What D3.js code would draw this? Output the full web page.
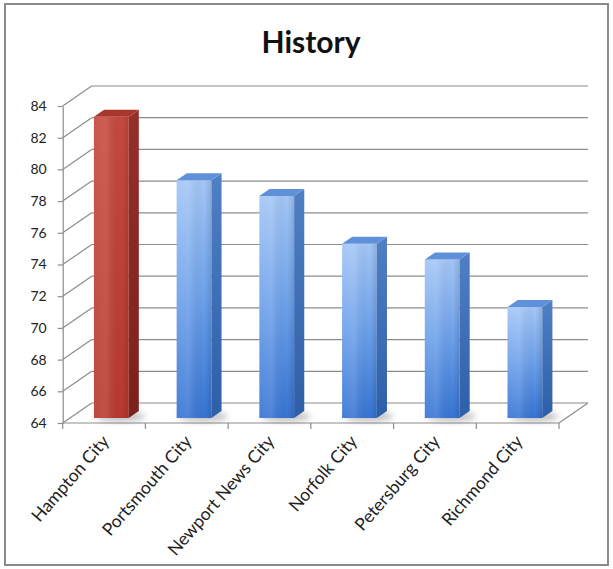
<!DOCTYPE html>
<html>
<head>
<meta charset="utf-8">
<script src="https://cdn.jsdelivr.net/npm/d3@7"></script>
<style>
  html, body { margin: 0; padding: 0; background: #fff; }
  svg { display: block; }
</style>
</head>
<body>
<svg id="chart" width="613" height="569"></svg>
<script>
// ---- data ----
const title = "History";
const categories = ["Hampton City", "Portsmouth City", "Newport News City", "Norfolk City", "Petersburg City", "Richmond City"];
const values = [83, 79, 78, 75, 74, 71];
const highlighted = ["Hampton City"];
const yTicks = [64, 66, 68, 70, 72, 74, 76, 78, 80, 82, 84];

// ---- layout ----
const W = 613, H = 569;
const svg = d3.select("#chart");
const font = "Lato, 'Open Sans', 'DejaVu Sans', sans-serif";

const x = d3.scaleBand().domain(categories).range([62.7, 559]).padding(0);
const y = d3.scaleLinear().domain([64, 84]).range([423, 106]);
const DX = 29, DY = -20;           // depth offset of the back wall
const proj = (px, py, z) => [px + z * DX, py + z * DY];

// frame
svg.append("rect").attr("x", 5).attr("y", 4).attr("width", 603).attr("height", 561)
  .attr("fill", "#fff").attr("stroke", "#8a8a8a").attr("stroke-width", 2);

// title
svg.append("text").attr("x", 311).attr("y", 53).attr("text-anchor", "middle")
  .attr("font-family", font).attr("font-weight", "bold").attr("font-size", 30)
  .attr("fill", "#111").text(title);

const defs = svg.append("defs");
const mkGrad = (id, stops, vertical = true) => {
  const g = defs.append("linearGradient").attr("id", id)
    .attr("x1", 0).attr("y1", 0).attr("x2", vertical ? 0 : 1).attr("y2", vertical ? 1 : 0);
  stops.forEach(([o, c]) => g.append("stop").attr("offset", o).attr("stop-color", c));
};
mkGrad("blueFront", [[0, "#a4c6f6"], [0.5, "#6ca0ea"], [1, "#3674d3"]]);
mkGrad("blueSide", [[0, "#4f80c4"], [1, "#2d5ea8"]]);
mkGrad("redFront", [[0, "#c5493e"], [1, "#b7392f"]]);
mkGrad("redSide", [[0, "#95302a"], [1, "#7c201c"]]);
mkGrad("shade", [[0, "rgba(255,255,255,0.08)"], [0.35, "rgba(255,255,255,0.12)"], [0.8, "rgba(0,0,0,0.0)"], [1, "rgba(0,0,0,0.12)"]], false);
const blur = defs.append("filter").attr("id", "blur").attr("x", "-50%").attr("y", "-50%").attr("width", "200%").attr("height", "200%");
blur.append("feGaussianBlur").attr("stdDeviation", 3);

const grid = svg.append("g").attr("stroke", "#8c8c8c").attr("stroke-width", 1.2).attr("fill", "none");
// back wall gridlines + left wall diagonals
yTicks.forEach(t => {
  const [bx0, by0] = proj(x.range()[0], y(t), 1);
  const [bx1, by1] = proj(x.range()[1], y(t), 1);
  grid.append("line").attr("x1", bx0).attr("y1", by0).attr("x2", bx1).attr("y2", by1);
  grid.append("line").attr("x1", x.range()[0]).attr("y1", y(t)).attr("x2", bx0).attr("y2", by0);
});
// floor front edge and right edge
const [fr0x, fr0y] = [x.range()[1], y(64)];
const [fr1x, fr1y] = proj(x.range()[1], y(64), 1);
grid.append("line").attr("x1", x.range()[0]).attr("y1", y(64)).attr("x2", fr0x).attr("y2", fr0y);
grid.append("line").attr("x1", fr0x).attr("y1", fr0y).attr("x2", fr1x).attr("y2", fr1y);

// y axis
const yAxis = d3.axisLeft(y).tickValues(yTicks).tickSize(5).tickSizeOuter(0).tickPadding(11);
const gy = svg.append("g").attr("transform", `translate(${x.range()[0]},0)`).call(yAxis);
gy.select(".domain").attr("stroke", "#8c8c8c").attr("stroke-width", 1.2);
gy.selectAll(".tick line").attr("stroke", "#8c8c8c").attr("stroke-width", 1.2);
gy.selectAll(".tick text").attr("font-family", font).attr("font-size", 14).attr("fill", "#222");

// x axis (ticks at category boundaries, labels rotated)
const bounds = categories.map(c => x(c)).concat([x.range()[1]]);
svg.append("g").selectAll("line").data(bounds).join("line")
  .attr("x1", d => d).attr("x2", d => d).attr("y1", y(64)).attr("y2", y(64) + 6)
  .attr("stroke", "#8c8c8c").attr("stroke-width", 1.2);
svg.append("g").selectAll("text").data(categories).join("text")
  .attr("transform", d => `translate(${x(d) + x.bandwidth() / 2 + 6},${y(64) + 19}) rotate(-49)`)
  .attr("text-anchor", "end").attr("font-family", font).attr("font-size", 17.5).attr("fill", "#222")
  .text(d => d);

// bars
const bw = x.bandwidth() * 0.42;
const z0 = 0.25, z1 = 0.6;
const bars = svg.append("g");
categories.forEach((c, i) => {
  const v = values[i];
  const red = highlighted.includes(c);
  const u0 = x(c) + (x.bandwidth() - bw) / 2, u1 = u0 + bw;
  const yb = y(64), yt = y(v);
  const P = (u, yy, z) => proj(u, yy, z).join(",");
  const g = bars.append("g");
  // shadow on floor
  const [sx, sy] = proj(u0 + bw / 2 + 4, yb, (z0 + z1) / 2);
  g.append("ellipse").attr("cx", sx).attr("cy", sy + 2).attr("rx", bw * 0.7).attr("ry", 5)
    .attr("fill", "rgba(0,0,0,0.25)").attr("filter", "url(#blur)");
  // front face
  g.append("polygon").attr("points", [P(u0, yb, z0), P(u1, yb, z0), P(u1, yt, z0), P(u0, yt, z0)].join(" "))
    .attr("fill", red ? "url(#redFront)" : "url(#blueFront)");
  g.append("polygon").attr("points", [P(u0, yb, z0), P(u1, yb, z0), P(u1, yt, z0), P(u0, yt, z0)].join(" "))
    .attr("fill", "url(#shade)");
  // side face
  g.append("polygon").attr("points", [P(u1, yb, z0), P(u1, yb, z1), P(u1, yt, z1), P(u1, yt, z0)].join(" "))
    .attr("fill", red ? "url(#redSide)" : "url(#blueSide)");
  // top face
  g.append("polygon").attr("points", [P(u0, yt, z0), P(u1, yt, z0), P(u1, yt, z1), P(u0, yt, z1)].join(" "))
    .attr("fill", red ? "#a9362d" : "#5f90da");
});
</script>
</body>
</html>
